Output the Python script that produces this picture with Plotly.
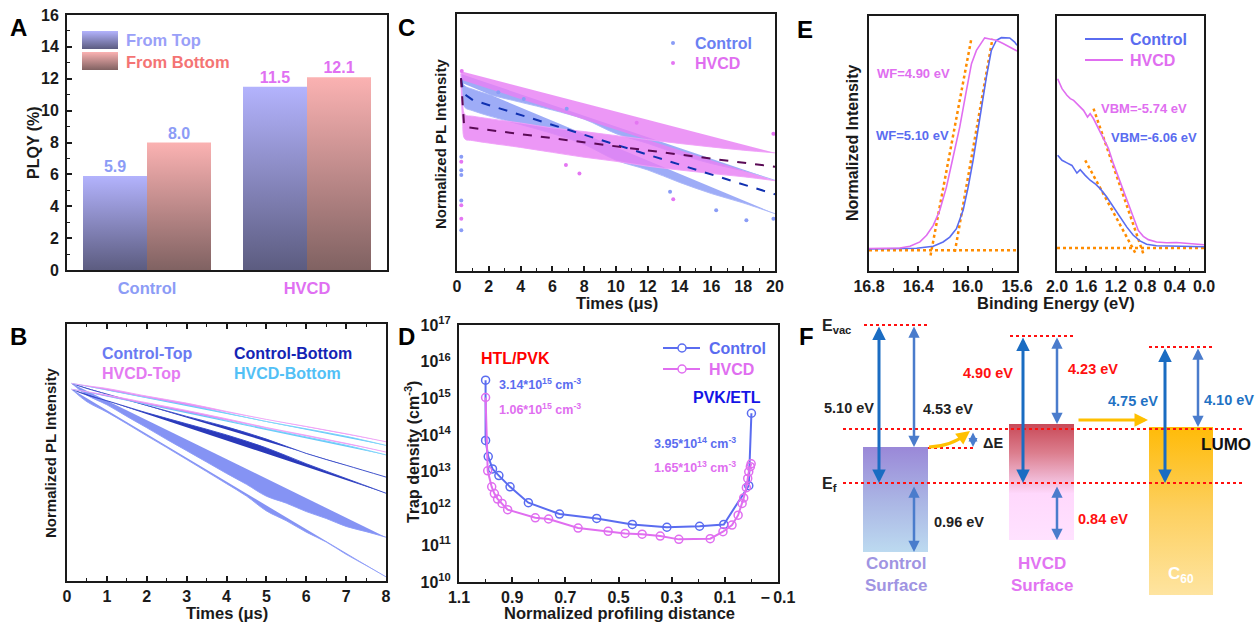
import plotly.graph_objects as go

W, H = 1260, 625
OFF = 0
FW, FH = W - 2 * OFF, H - 2 * OFF
FONT = "Liberation Sans, Arial, Helvetica, sans-serif"
INK = "#1a1a1a"

# ---------------- Panel A : PLQY ----------------
groups = ["Control", "HVCD"]
plqy_top = [5.9, 11.5]
plqy_bottom = [8.0, 12.1]

# ---------------- Panel B : TRPL top/bottom (normalized, log) ----------------
tB_ctop = [0.12, 0.5, 1, 1.5, 2, 2.5, 3, 3.5, 4, 4.5, 5, 5.5, 6, 6.5, 7, 7.5, 8]
pl_ctop = [1.0, 0.686, 0.501, 0.348, 0.241, 0.167, 0.116, 0.0804, 0.0556, 0.0386,
           0.0254, 0.0195, 0.0143, 0.0110, 0.0080, 0.0062, 0.00475]
spr_ctop = [0.04, 0.045, 0.05, 0.05, 0.055, 0.055, 0.06, 0.065, 0.07, 0.08,
            0.10, 0.12, 0.14, 0.16, 0.19, 0.23, 0.27]
tB = [0.12, 0.5, 1, 2, 3, 4, 5, 6, 7, 8]
pl_cbot = [1.0, 0.845, 0.708, 0.491, 0.348, 0.248, 0.167, 0.104, 0.0686, 0.0452]
spr_cbot = [0.04, 0.045, 0.045, 0.05, 0.05, 0.055, 0.06, 0.07, 0.09, 0.11]
pl_htop = [1.0, 0.93, 0.845, 0.665, 0.528, 0.407, 0.313, 0.248, 0.195, 0.150]
spr_htop = [0.04, 0.04, 0.045, 0.045, 0.05, 0.05, 0.055, 0.06, 0.065, 0.07]
pl_hbot = [1.0, 0.92, 0.82, 0.638, 0.507, 0.386, 0.297, 0.233, 0.182, 0.1355]
spr_hbot = [0.04, 0.04, 0.04, 0.045, 0.045, 0.05, 0.05, 0.055, 0.06, 0.065]

# ---------------- Panel C : TRPL 0-20 us ----------------
tC = [0.25, 0.35, 0.5, 1, 2, 4, 6, 8, 10, 12, 14, 16, 18, 20]
pl_c_ctrl = [1.0, 0.881, 0.819, 0.791, 0.749, 0.685, 0.626, 0.562, 0.478, 0.430,
             0.379, 0.340, 0.311, 0.279]
spr_c_ctrl = [0.02, 0.035, 0.05, 0.05, 0.05, 0.052, 0.055, 0.059, 0.062, 0.062,
              0.065, 0.07, 0.075, 0.078]
pl_c_hvcd = [1.03, 0.710, 0.593, 0.583, 0.568, 0.542, 0.514, 0.491, 0.470, 0.448,
             0.430, 0.414, 0.400, 0.386]
spr_c_hvcd = [0.02, 0.05, 0.057, 0.057, 0.057, 0.057, 0.057, 0.06, 0.06, 0.062,
              0.062, 0.062, 0.062, 0.065]
tFit_ctrl = [0.25, 0.4, 1, 20]
fit_ctrl = [1.0, 0.849, 0.791, 0.287]
tFit_hvcd = [0.25, 0.45, 20]
fit_hvcd = [1.0, 0.593, 0.386]
tOut_ctrl = [0.27, 0.27, 0.27, 0.27, 0.27, 13.4, 16.3, 18.2, 19.9, 2.6, 6.9, 4.2]
out_ctrl = [0.430, 0.372, 0.353, 0.269, 0.195, 0.295, 0.242, 0.217, 0.221, 0.86, 0.72, 0.80]
tOut_hvcd = [0.27, 0.27, 0.27, 13.6, 7.7, 6.85, 11.3, 19.9, 0.3]
out_hvcd = [0.407, 0.255, 0.221, 0.272, 0.359, 0.394, 0.62, 0.55, 1.08]

# ---------------- Panel D : trap density profile ----------------
dist_c = [1.0, 1.0, 0.99, 0.974, 0.95, 0.908, 0.839, 0.722, 0.582, 0.448, 0.318,
          0.195, 0.104, 0.01, 0.0]
trap_c = [3.14e15, 7.2e13, 2.6e13, 1.2e13, 7.9e12, 3.9e12, 1.45e12, 7.1e11, 5.4e11,
          3.7e11, 3.1e11, 3.3e11, 3.7e11, 4.2e12, 3.95e14]
dist_h = [1.0, 0.992, 0.977, 0.967, 0.955, 0.938, 0.917, 0.813, 0.763, 0.652, 0.539,
          0.475, 0.411, 0.343, 0.273, 0.155, 0.107, 0.073, 0.05, 0.035, 0.029, 0.019,
          0.014, 0.01, 0.004, 0.001]
trap_h = [1.06e15, 1.07e13, 3.9e12, 2.57e12, 1.82e12, 1.38e12, 9.3e11, 5.6e11, 5.2e11,
          2.95e11, 2.4e11, 2.1e11, 2.0e11, 1.78e11, 1.45e11, 1.51e11, 2.34e11, 3.55e11,
          6.6e11, 1.38e12, 1.95e12, 3.7e12, 6.6e12, 1.0e13, 1.38e13, 1.65e13]

# ---------------- Panel E : UPS ----------------
be_cut_h = [16.8, 16.549, 16.468, 16.387, 16.333, 16.279, 16.226, 16.172, 16.118, 16.064,
            16.010, 15.969, 15.929, 15.888, 15.862, 15.821, 15.767, 15.713, 15.659, 15.600]
int_cut_h = [0.088, 0.090, 0.097, 0.114, 0.140, 0.179, 0.238, 0.329, 0.447, 0.565,
             0.708, 0.813, 0.865, 0.898, 0.914, 0.910, 0.905, 0.892, 0.878, 0.863]
be_cut_c = [16.8, 16.414, 16.279, 16.199, 16.145, 16.091, 16.037, 15.996, 15.956, 15.902,
            15.848, 15.808, 15.767, 15.727, 15.659, 15.619, 15.600]
int_cut_c = [0.086, 0.089, 0.097, 0.114, 0.133, 0.166, 0.238, 0.329, 0.434, 0.604,
             0.761, 0.865, 0.905, 0.915, 0.914, 0.898, 0.885]
be_vb_h = [1.991, 1.932, 1.865, 1.819, 1.774, 1.707, 1.639, 1.585, 1.549, 1.503, 1.436,
           1.368, 1.300, 1.233, 1.165, 1.097, 1.029, 0.962, 0.894, 0.826, 0.758, 0.646,
           0.510, 0.375, 0.239, 0.104, 0.0]
int_vb_h = [0.754, 0.715, 0.689, 0.676, 0.669, 0.650, 0.630, 0.604, 0.617, 0.597, 0.558,
            0.525, 0.480, 0.421, 0.369, 0.316, 0.264, 0.212, 0.159, 0.136, 0.123, 0.114,
            0.111, 0.112, 0.108, 0.106, 0.103]
be_vb_c = [1.991, 1.932, 1.865, 1.797, 1.729, 1.684, 1.616, 1.549, 1.481, 1.413, 1.323,
           1.233, 1.142, 1.052, 0.962, 0.871, 0.781, 0.646, 0.465, 0.239, 0.0]
int_vb_c = [0.454, 0.434, 0.424, 0.414, 0.384, 0.397, 0.375, 0.356, 0.342, 0.323, 0.290,
            0.251, 0.212, 0.173, 0.140, 0.118, 0.105, 0.099, 0.098, 0.097, 0.095]
tan_cut_h = ([16.301, 15.969], [0.061, 0.914])
tan_cut_c = ([16.104, 15.799], [0.075, 0.911])
tan_vb_h = ([1.503, 0.826], [0.637, 0.068])
tan_vb_c = ([1.616, 0.916], [0.434, 0.061])
base_cut = 0.081
base_vb = 0.090

# ---------------- colours ----------------
C_CT, C_CB, C_HT, C_HB = "#6a7af2", "#1424b4", "#e47af2", "#52c0f6"
C_CTRL, C_HVCD = "#5a6cf0", "#e06ef0"
ORANGE = "#ff8c00"

fig = go.Figure()


def xdom(a, b):
    return [(a - OFF) / FW, (b - OFF) / FW]


def ydom(top, bot):
    return [1 - (bot - OFF) / FH, 1 - (top - OFF) / FH]


# ---------- A ----------
for i, g in enumerate(groups):
    vt, vb = plqy_top[i], plqy_bottom[i]
    fig.add_trace(go.Scatter(x=[i - 0.4, i, i, i - 0.4], y=[0, 0, vt, vt], fill="toself",
                             mode="lines", line=dict(width=0), hoverinfo="skip",
                             fillgradient=dict(type="vertical", start=0, stop=vt,
                                               colorscale=[[0, "#5c5c80"], [1, "#b3b3fd"]]),
                             xaxis="x", yaxis="y", showlegend=False))
    fig.add_trace(go.Scatter(x=[i, i + 0.4, i + 0.4, i], y=[0, 0, vb, vb], fill="toself",
                             mode="lines", line=dict(width=0), hoverinfo="skip",
                             fillgradient=dict(type="vertical", start=0, stop=vb,
                                               colorscale=[[0, "#806262"], [1, "#fbb2b2"]]),
                             xaxis="x", yaxis="y", showlegend=False))
lab_cols = ["#8c9cf6", "#e070f2"]
for i in range(2):
    fig.add_trace(go.Scatter(x=[i - 0.2, i + 0.2], y=[plqy_top[i], plqy_bottom[i]],
                             mode="text", text=[f"{plqy_top[i]:.1f}", f"{plqy_bottom[i]:.1f}"],
                             textposition="top center",
                             textfont=dict(family=FONT, size=16, color=lab_cols[i], weight="bold"),
                             xaxis="x", yaxis="y", showlegend=False, hoverinfo="skip"))


# ---------- bands helper (scatter clouds drawn as their read envelope) ----------
def band(x, c, s, fillc, edgec, xa, ya):
    up = [v * 10 ** h for v, h in zip(c, s)]
    lo = [v / 10 ** h for v, h in zip(c, s)]
    fig.add_trace(go.Scatter(x=x, y=lo, mode="lines", line=dict(width=1, color=edgec, shape="spline"),
                             xaxis=xa, yaxis=ya, showlegend=False, hoverinfo="skip"))
    fig.add_trace(go.Scatter(x=x, y=up, mode="lines", line=dict(width=1, color=edgec, shape="spline"),
                             fill="tonext", fillcolor=fillc,
                             xaxis=xa, yaxis=ya, showlegend=False, hoverinfo="skip"))


# ---------- B ----------
band(tB_ctop, pl_ctop, spr_ctop, "rgba(112,128,242,0.85)", "rgba(140,155,248,0.9)", "x2", "y2")
band(tB, pl_cbot, spr_cbot, "rgba(24,40,180,0.92)", "rgba(50,70,200,0.9)", "x2", "y2")
band(tB, pl_hbot, spr_hbot, "rgba(90,195,248,0.92)", "rgba(120,210,250,0.9)", "x2", "y2")
band(tB, pl_htop, spr_htop, "rgba(228,125,242,0.85)", "rgba(238,160,246,0.9)", "x2", "y2")

# ---------- C ----------
band(tC, pl_c_ctrl, spr_c_ctrl, "rgba(150,165,246,0.92)", "rgba(170,182,248,0.9)", "x3", "y3")
band(tC, pl_c_hvcd, spr_c_hvcd, "rgba(232,128,244,0.82)", "rgba(240,160,248,0.9)", "x3", "y3")
fig.add_trace(go.Scatter(x=tOut_ctrl, y=out_ctrl, mode="markers",
                         marker=dict(size=4, color="#8a9cf6"), xaxis="x3", yaxis="y3",
                         showlegend=False, hoverinfo="skip"))
fig.add_trace(go.Scatter(x=tOut_hvcd, y=out_hvcd, mode="markers",
                         marker=dict(size=4, color="#e476f2"), xaxis="x3", yaxis="y3",
                         showlegend=False, hoverinfo="skip"))
fig.add_trace(go.Scatter(x=tFit_ctrl, y=fit_ctrl, mode="lines",
                         line=dict(color="#1030b0", width=2, dash="dash"), xaxis="x3", yaxis="y3",
                         showlegend=False, hoverinfo="skip"))
fig.add_trace(go.Scatter(x=tFit_hvcd, y=fit_hvcd, mode="lines",
                         line=dict(color="#5a0a55", width=2, dash="dash"), xaxis="x3", yaxis="y3",
                         showlegend=False, hoverinfo="skip"))

# ---------- D ----------
fig.add_trace(go.Scatter(x=dist_c, y=trap_c, mode="lines+markers",
                         line=dict(color=C_CTRL, width=2),
                         marker=dict(symbol="circle-open", size=8, color=C_CTRL, line=dict(width=1.5)),
                         xaxis="x4", yaxis="y4", showlegend=False))
fig.add_trace(go.Scatter(x=dist_h, y=trap_h, mode="lines+markers",
                         line=dict(color=C_HVCD, width=2),
                         marker=dict(symbol="circle-open", size=8, color=C_HVCD, line=dict(width=1.5)),
                         xaxis="x4", yaxis="y4", showlegend=False))

# ---------- E ----------
for xs, ys in (tan_cut_h, tan_cut_c):
    fig.add_trace(go.Scatter(x=xs, y=ys, mode="lines", line=dict(color=ORANGE, width=2.5, dash="dot"),
                             xaxis="x5", yaxis="y5", showlegend=False, hoverinfo="skip"))
fig.add_trace(go.Scatter(x=[16.8, 15.6], y=[base_cut, base_cut], mode="lines",
                         line=dict(color=ORANGE, width=2.5, dash="dot"),
                         xaxis="x5", yaxis="y5", showlegend=False, hoverinfo="skip"))
fig.add_trace(go.Scatter(x=be_cut_c, y=int_cut_c, mode="lines", line=dict(color=C_CTRL, width=1.6),
                         xaxis="x5", yaxis="y5", showlegend=False))
fig.add_trace(go.Scatter(x=be_cut_h, y=int_cut_h, mode="lines", line=dict(color=C_HVCD, width=1.6),
                         xaxis="x5", yaxis="y5", showlegend=False))
for xs, ys in (tan_vb_h, tan_vb_c):
    fig.add_trace(go.Scatter(x=xs, y=ys, mode="lines", line=dict(color=ORANGE, width=2.5, dash="dot"),
                             xaxis="x6", yaxis="y6", showlegend=False, hoverinfo="skip"))
fig.add_trace(go.Scatter(x=[2.0, 0.0], y=[base_vb, base_vb], mode="lines",
                         line=dict(color=ORANGE, width=2.5, dash="dot"),
                         xaxis="x6", yaxis="y6", showlegend=False, hoverinfo="skip"))
fig.add_trace(go.Scatter(x=be_vb_c, y=int_vb_c, mode="lines", line=dict(color=C_CTRL, width=1.6),
                         xaxis="x6", yaxis="y6", showlegend=False))
fig.add_trace(go.Scatter(x=be_vb_h, y=int_vb_h, mode="lines", line=dict(color=C_HVCD, width=1.6),
                         xaxis="x6", yaxis="y6", showlegend=False))


# ---------- page-pixel overlay (legend swatches, panel F) ----------
def grad_rect(x0, x1, y0, y1, scale):
    fig.add_trace(go.Scatter(x=[x0, x1, x1, x0], y=[y0, y0, y1, y1], fill="toself", mode="lines",
                             line=dict(width=0), hoverinfo="skip", showlegend=False,
                             fillgradient=dict(type="vertical", start=y0, stop=y1, colorscale=scale),
                             xaxis="x7", yaxis="y7"))


grad_rect(82, 118, 31, 49, [[0, "#b3b3fd"], [1, "#5c5c80"]])
grad_rect(82, 118, 52, 70, [[0, "#fbb2b2"], [1, "#806262"]])
grad_rect(863, 928, 447, 552, [[0, "#9a88d8"], [0.5, "#aab4e4"], [1, "#bcdaf0"]])
grad_rect(1009, 1074, 424, 540, [[0, "#c84a58"], [0.25, "#dc7e8e"], [0.5, "#f2bfdc"],
                                  [0.6, "#ffd8fc"], [1, "#ffe2ff"]])
grad_rect(1149, 1213, 427, 595, [[0, "#ffbb08"], [0.5, "#fdd060"], [1, "#fee4a0"]])

fig.add_trace(go.Scatter(x=[673, 673], y=[43, 63], mode="markers",
                         marker=dict(size=4, color=["#8a9cf6", "#e476f2"]),
                         xaxis="x7", yaxis="y7", showlegend=False, hoverinfo="skip"))
fig.add_trace(go.Scatter(x=[682, 682], y=[348, 369], mode="markers",
                         marker=dict(symbol="circle-open", size=8, color=[C_CTRL, C_HVCD], line=dict(width=1.5)),
                         xaxis="x7", yaxis="y7", showlegend=False, hoverinfo="skip"))

shapes = []


def hline(x0, x1, y, color, width=2, dash="solid"):
    shapes.append(dict(type="line", x0=x0, x1=x1, y0=y, y1=y, xref="x7", yref="y7",
                       line=dict(color=color, width=width, dash=dash), layer="above"))


hline(663, 678, 348, C_CTRL)
hline(686, 700, 348, C_CTRL)
hline(663, 678, 369, C_HVCD)
hline(686, 700, 369, C_HVCD)
hline(1085, 1123, 39, C_CTRL)
hline(1085, 1123, 60, C_HVCD)
RED = "#ff1010"
hline(864, 930, 325, RED, 2, "dot")
hline(1010, 1076, 336, RED, 2, "dot")
hline(1149, 1215, 347, RED, 2, "dot")
hline(843, 1243, 429, RED, 2, "dot")
hline(843, 1243, 483, RED, 2, "dot")
hline(928, 975, 448, RED, 2, "dot")
shapes.append(dict(type="path", path="M 929,447 Q 952,446 966,434", xref="x7", yref="y7",
                   line=dict(color="#ffc000", width=3), layer="above"))

annotations = []


def txt(x, y, s, size=15, color=INK, xanchor="center", angle=0, yanchor="middle"):
    annotations.append(dict(x=x, y=y, xref="x7", yref="y7", text=s, showarrow=False,
                            xanchor=xanchor, yanchor=yanchor, textangle=angle,
                            font=dict(family=FONT, size=size, color=color, weight="bold")))


def arrow(x, y0, y1, color, width=3, both=True):
    annotations.append(dict(x=x, y=y1, ax=x, ay=y0, xref="x7", yref="y7", axref="x7", ayref="y7",
                            text="", showarrow=True, arrowhead=2, startarrowhead=2,
                            arrowside="end+start" if both else "end",
                            arrowsize=0.9, startarrowsize=0.9, arrowwidth=width, arrowcolor=color))


for L, (x, y) in zip("ABCDEF", [(18, 27), (18, 336), (406, 27), (406, 336), (805, 29), (806, 336)]):
    txt(x, y, L, size=24, color="#000")

txt(33, 143, "PLQY (%)", 16, angle=-90)
txt(50, 453, "Normalized PL Intensity", 15, angle=-90)
txt(227, 613, "Times (μs)", 16.5)
txt(440, 144, "Normalized PL Intensity", 15, angle=-90)
txt(617, 303, "Times (μs)", 16.5)
txt(412, 452, "Trap density (cm<sup>-3</sup>)", 16, angle=-90)
txt(619, 613, "Normalized profiling distance", 16.5)
txt(852, 143, "Normalized Intensity", 16, angle=-90)
txt(1056, 303, "Binding Energy (eV)", 16.5)

txt(124, 40, "From Top", 16.5, "#9aa0f8", "left")
txt(124, 62, "From Bottom", 16.5, "#f47474", "left")
txt(100, 353, "Control-Top", 16, C_CT, "left")
txt(232, 353, "Control-Bottom", 16, C_CB, "left")
txt(100, 373, "HVCD-Top", 16, C_HT, "left")
txt(232, 373, "HVCD-Bottom", 16, C_HB, "left")
txt(693, 43, "Control", 16, "#6a80f2", "left")
txt(693, 63, "HVCD", 16, C_HVCD, "left")
txt(707, 348, "Control", 16, C_CTRL, "left")
txt(707, 369, "HVCD", 16, C_HVCD, "left")
txt(515, 358, "HTL/PVK", 16, "#ff0000")
txt(497, 384, "3.14*10<sup>15</sup> cm<sup>-3</sup>", 12.5, C_CTRL, "left")
txt(497, 409, "1.06*10<sup>15</sup> cm<sup>-3</sup>", 12.5, C_HVCD, "left")
txt(727, 397, "PVK/ETL", 16, "#1414e6")
txt(652, 443, "3.95*10<sup>14</sup> cm<sup>-3</sup>", 12.5, C_CTRL, "left")
txt(652, 467, "1.65*10<sup>13</sup> cm<sup>-3</sup>", 12.5, C_HVCD, "left")
txt(1128, 39, "Control", 16, C_CTRL, "left")
txt(1128, 60, "HVCD", 16, C_HVCD, "left")
txt(875, 73, "WF=4.90 eV", 13, C_HVCD, "left")
txt(874, 135, "WF=5.10 eV", 13, C_CTRL, "left")
txt(1099, 108, "VBM=-5.74 eV", 13, C_HVCD, "left")
txt(1109, 137, "VBM=-6.06 eV", 13, C_CTRL, "left")

txt(820, 326, "E<sub>vac</sub>", 16, "#222", "left")
txt(820, 484, "E<sub>f</sub>", 16, "#222", "left")
txt(849, 408, "5.10 eV", 14.5, "#222")
txt(948, 409, "4.53 eV", 14.5, "#222")
txt(959, 522, "0.96 eV", 14.5, "#222")
txt(993, 443, "ΔE", 14.5, "#222")
txt(988, 373, "4.90 eV", 14.5, "#ff1010")
txt(1093, 369, "4.23 eV", 14.5, "#ff1010")
txt(1103, 519, "0.84 eV", 14.5, "#ff1010")
txt(1133, 401, "4.75 eV", 14.5, "#1f72c4")
txt(1229, 400, "4.10 eV", 14.5, "#1f72c4")
txt(1226, 444, "LUMO", 17, "#111")
txt(896, 574, "Control<br>Surface", 17, "#a094e2")
txt(1042, 574, "HVCD<br>Surface", 17, "#e274f2")
txt(1181, 575, "C<sub>60</sub>", 17, "#ffffff")

DARKB, LIGHTB = "#1a6cc2", "#4a7ccc"
arrow(879, 325, 483, DARKB, 3)
arrow(914, 325, 447, LIGHTB, 2.5)
arrow(914, 485, 552, LIGHTB, 2.5)
arrow(1023, 336, 483, DARKB, 3)
arrow(1057, 336, 424, LIGHTB, 2.5)
arrow(1057, 485, 540, LIGHTB, 2.5)
arrow(1165, 347, 483, DARKB, 3)
arrow(1198, 347, 427, LIGHTB, 2.5)
arrow(973, 431, 447, LIGHTB, 2)
annotations.append(dict(x=970, y=431, ax=962, ay=437, xref="x7", yref="y7", axref="x7", ayref="y7",
                        text="", showarrow=True, arrowhead=2, arrowsize=0.9, arrowwidth=3,
                        arrowcolor="#ffc000"))
annotations.append(dict(x=1148, y=420, ax=1077, ay=420, xref="x7", yref="y7", axref="x7", ayref="y7",
                        text="", showarrow=True, arrowhead=2, arrowsize=0.9, arrowwidth=3,
                        arrowcolor="#ffc000"))

# ---------------- axes ----------------
tf = dict(family=FONT, size=16, color=INK, weight="bold")
base = dict(showline=True, linewidth=2, linecolor=INK, mirror=True, ticks="inside", ticklen=5,
            tickwidth=1.5, tickcolor=INK, tickfont=tf, showgrid=False, zeroline=False,
            ticklabelstandoff=0, automargin=False)
noy = dict(showline=True, linewidth=2, linecolor=INK, mirror=True, ticks="", showticklabels=False,
           showgrid=False, zeroline=False, automargin=False)


def minor_in(d, t0=0):
    return dict(ticks="inside", ticklen=3, tickwidth=1.2, tickcolor=INK, dtick=d, tick0=t0, showgrid=False)


layout = dict(
    template="none",
    width=FW, height=FH, margin=dict(l=0, r=0, t=0, b=0, pad=0, autoexpand=False), autosize=False,
    paper_bgcolor="white", plot_bgcolor="rgba(0,0,0,0)", showlegend=False,
    font=dict(family=FONT, color=INK),
    xaxis=dict(base, domain=xdom(67, 387), range=[-0.5, 1.5], ticks="", tickvals=[0, 1],
               ticktext=[f"<span style='color:{lab_cols[0]}'>Control</span>",
                         f"<span style='color:{lab_cols[1]}'>HVCD</span>"],
               tickfont=dict(tf, size=16.5), ticklabelstandoff=2, anchor="y"),
    yaxis=dict(base, domain=ydom(15, 270), range=[0, 16], dtick=2, minor=minor_in(1), anchor="x",
               ticklabelstandoff=3),
    xaxis2=dict(base, domain=xdom(67, 386), range=[0, 8], dtick=1, minor=minor_in(0.5),
                mirror="allticks", anchor="y2"),
    yaxis2=dict(noy, domain=ydom(324, 581), type="log", range=[-2.65, 0.85], anchor="x2"),
    xaxis3=dict(base, domain=xdom(457, 775), range=[0, 20], dtick=2, minor=minor_in(1), anchor="y3"),
    yaxis3=dict(noy, domain=ydom(14, 271), type="log", range=[-0.9, 0.3], anchor="x3"),
    xaxis4=dict(base, domain=xdom(459, 778), range=[1.1, -0.1],
                tickvals=[1.1, 0.9, 0.7, 0.5, 0.3, 0.1, -0.1],
                ticktext=["1.1", "0.9", "0.7", "0.5", "0.3", "0.1", "\u2212\u20090.1"],
                minor=minor_in(0.1), anchor="y4"),
    yaxis4=dict(base, domain=ydom(325, 582), type="log", range=[10, 17], ticks="",
                tickvals=[10 ** k for k in range(10, 18)], ticklabelstandoff=3,
                ticktext=[f"10<sup>{k}</sup>" for k in range(10, 18)], anchor="x4"),
    xaxis5=dict(base, domain=xdom(869, 1017), range=[16.8, 15.6],
                tickvals=[16.8, 16.4, 16.0, 15.6], ticktext=["16.8", "16.4", "16.0", "15.6"],
                minor=minor_in(0.2, 15.6), anchor="y5"),
    yaxis5=dict(noy, domain=ydom(16, 271), range=[0, 1], anchor="x5"),
    xaxis6=dict(base, domain=xdom(1057, 1204), range=[2.0, 0.0],
                tickvals=[2.0, 1.6, 1.2, 0.8, 0.4, 0.0], ticktext=["2.0", "1.6", "1.2", "0.8", "0.4", "0.0"],
                minor=minor_in(0.2), anchor="y6"),
    yaxis6=dict(noy, domain=ydom(16, 271), range=[0, 1], anchor="x6"),
    xaxis7=dict(domain=[0, 1], range=[OFF, W - OFF], visible=False, anchor="y7", automargin=False),
    yaxis7=dict(domain=[0, 1], range=[H - OFF, OFF], visible=False, anchor="x7", automargin=False),
    shapes=shapes, annotations=annotations,
)
fig.update_layout(layout)

fig.write_html("out.html", config={"displayModeBar": False},
               post_script="document.body.style.margin='0px';document.documentElement.style.overflow='hidden';")
